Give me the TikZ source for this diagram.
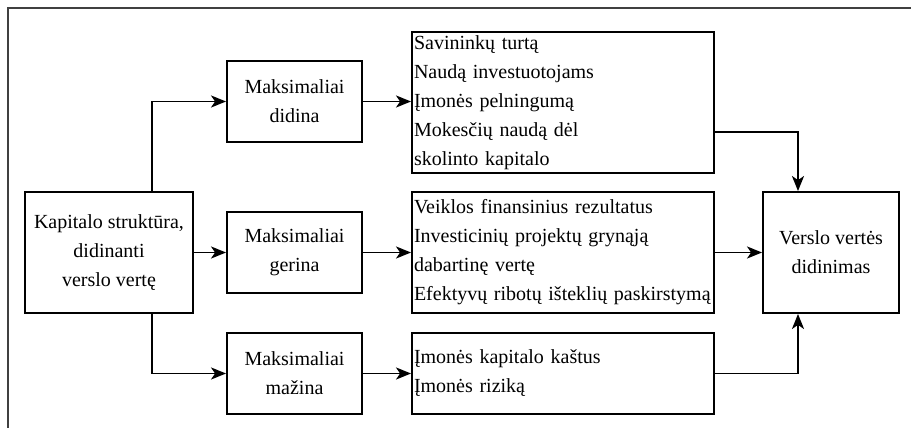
\documentclass[tikz,border=0pt]{standalone}
\usepackage{fontspec}
\setmainfont{Liberation Serif}
\usetikzlibrary{arrows.meta}
\begin{document}
\begin{tikzpicture}[x=1pt,y={(0pt,-1pt)},
  box/.style={draw=black, line width=1.9pt, inner sep=0pt,
    font=\fontsize{20}{29}\selectfont},
  midbox/.style={box, minimum width=135pt, minimum height=81pt, align=center},
  listbox/.style={box, minimum width=302pt, text width=298pt, inner xsep=2pt, align=left},
  arr/.style={line width=1.9pt, -{Stealth[length=15pt,width=12pt,inset=4pt]}}]
  \useasboundingbox (0,0) rectangle (911,428);
  % outer frame (top and left edges)
  \draw[line width=2pt, draw=black!75] (911,8) -- (7.5,8) -- (7.5,428);

  % main boxes
  \node[box, minimum width=168pt, minimum height=121pt, align=center] (src) at (109,252.5)
    {Kapitalo struktūra,\\didinanti\\verslo vertę};
  \node[midbox] (didina) at (294.5,101.5) {Maksimaliai\\didina};
  \node[midbox] (gerina) at (294.5,252.5) {Maksimaliai\\gerina};
  \node[midbox] (mazina) at (294.5,373.5) {Maksimaliai\\mažina};

  \node[listbox, minimum height=141pt] (t1) at (563,102.5)
    {\mbox{Savininkų turtą}\\\mbox{Naudą investuotojams}\\\mbox{Įmonės pelningumą}\\\mbox{Mokesčių naudą dėl}\\\mbox{skolinto kapitalo}};
  \node[listbox, minimum height=121pt] (t2) at (563,252.5)
    {\mbox{Veiklos finansinius rezultatus}\\\mbox{Investicinių projektų grynąją}\\\mbox{dabartinę vertę}\\\mbox{Efektyvų ribotų išteklių paskirstymą}};
  \node[listbox, minimum height=81pt] (t3) at (563,373.5)
    {\mbox{Įmonės kapitalo kaštus}\\\mbox{Įmonės riziką}};

  \node[box, minimum width=136pt, minimum height=121pt, align=center] (goal) at (831,252.5)
    {Verslo vertės\\didinimas};

  % routing columns
  \coordinate (lcol) at (152,0);
  \coordinate (rcol) at (798,0);
  \coordinate (trow) at (0,132);

  % connectors
  \draw[arr] (src.north -| lcol) |- (didina.west);
  \draw[arr] (src.east) -- (gerina.west);
  \draw[arr] (src.south -| lcol) |- (mazina.west);
  \draw[arr] (didina.east) -- (didina.east -| t1.west);
  \draw[arr] (gerina.east) -- (t2.west);
  \draw[arr] (mazina.east) -- (t3.west);
  \draw[arr] (t1.east |- trow) -| (goal.north -| rcol);
  \draw[arr] (t2.east) -- (goal.west);
  \draw[arr] (t3.east) -| (goal.south -| rcol);
\end{tikzpicture}
\end{document}
